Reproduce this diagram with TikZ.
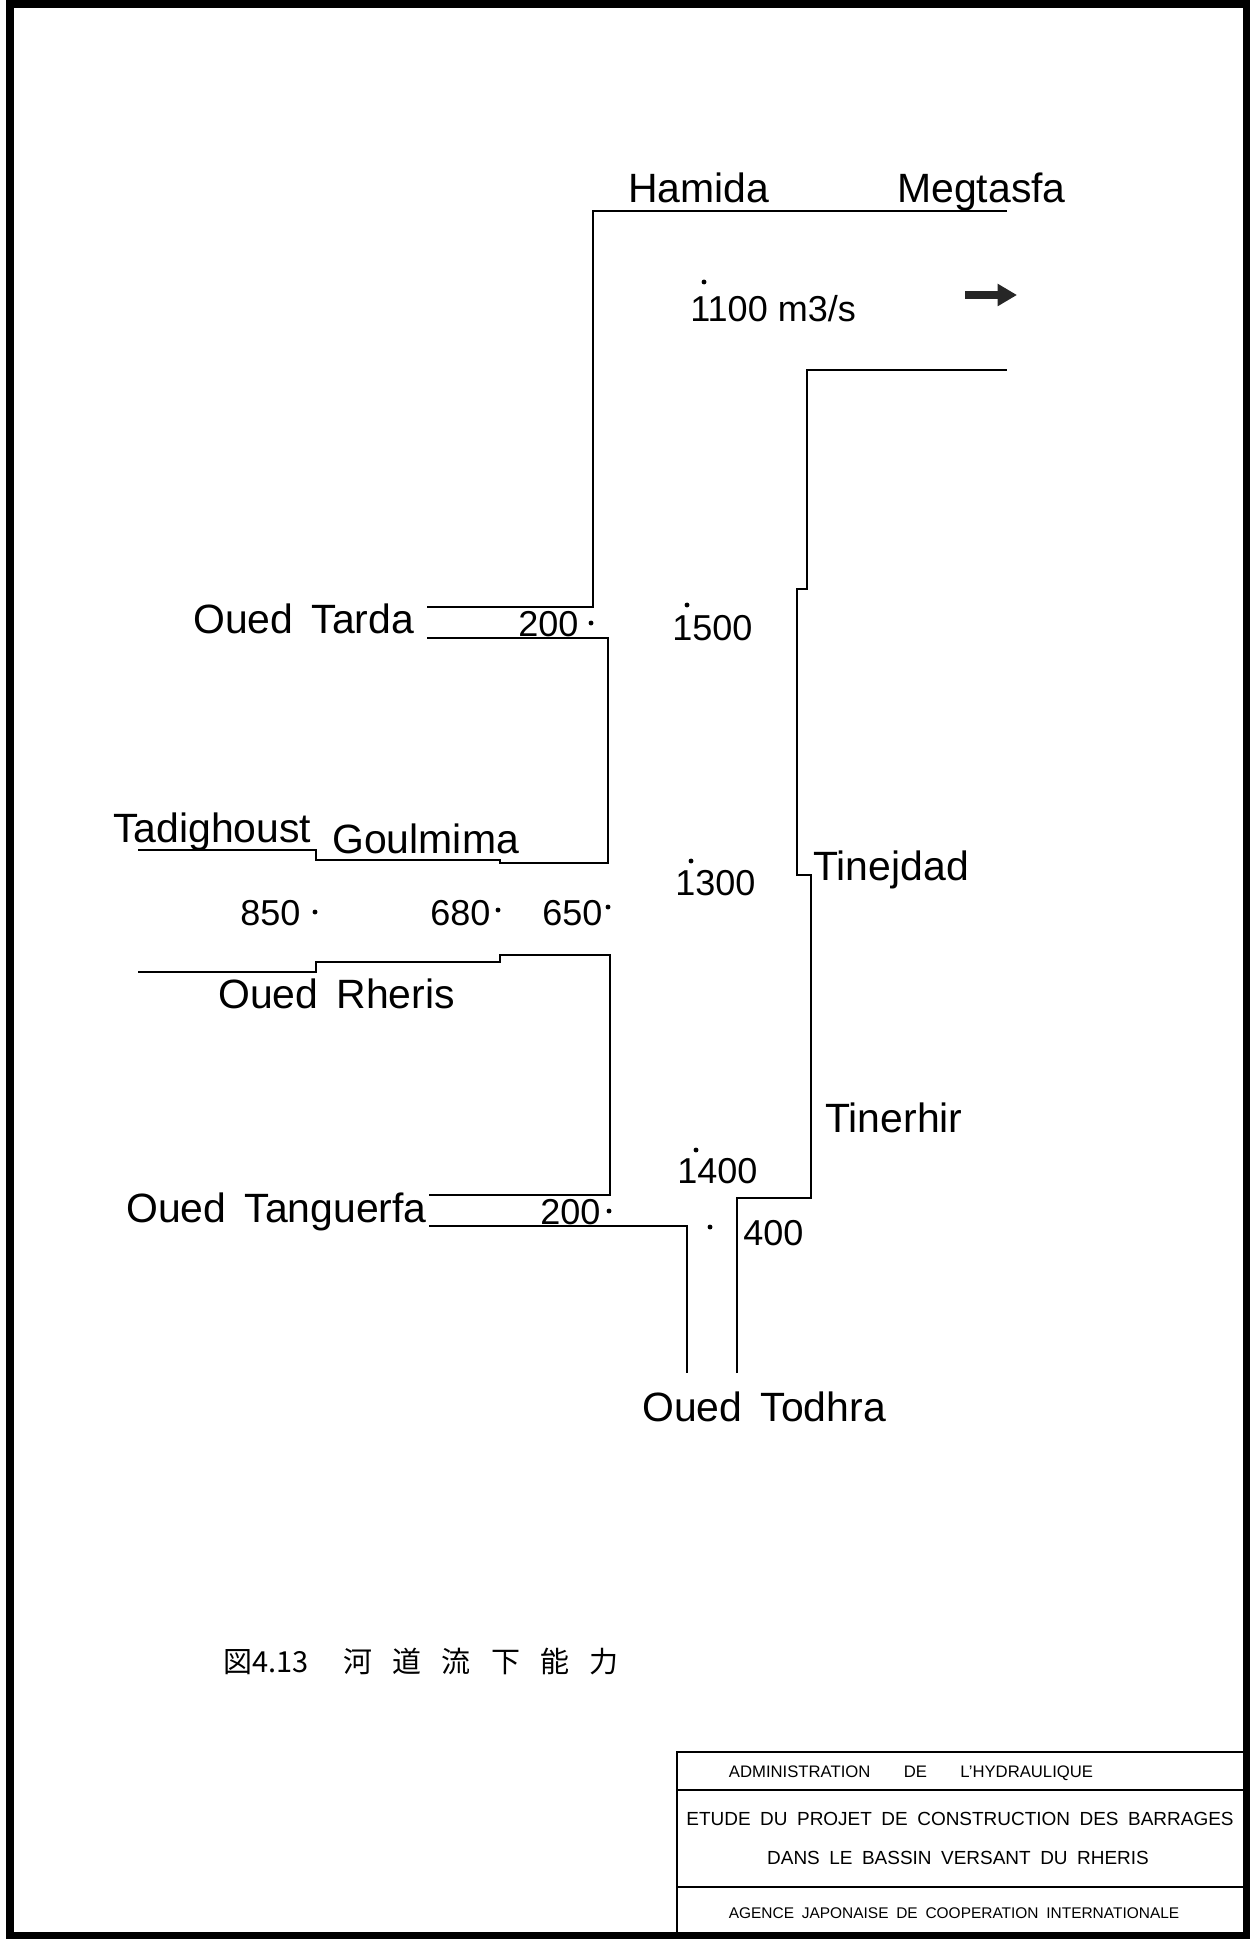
\documentclass[tikz,border=0pt]{standalone}
\usepackage{fontspec}
\setmainfont{Liberation Sans}
\newfontfamily\cjk{Noto Sans CJK JP}
\usetikzlibrary{arrows.meta}

\begin{document}
\begin{tikzpicture}[x=0.02cm,y=-0.02cm,
  frm/.style={draw=black,line width=4pt},
  bank/.style={draw=black,line width=1.4pt,line join=miter},
  cell/.style={draw=black,line width=1.1pt},
  place/.style={font=\fontsize{23.3}{26}\selectfont,inner sep=0pt,anchor=base west},
  num/.style={font=\fontsize{20.5}{24}\selectfont,inner sep=0pt,anchor=base west},
  spot/.style={circle,fill=black,inner sep=0pt,minimum size=2.8pt},
  tb/.style={font=\fontsize{#1}{12}\selectfont,inner sep=0pt},
  tb/.default=10.8,
  flow/.style={draw=black!85,line width=5pt,-{Triangle[length=11pt,width=12pt]}}]
\useasboundingbox (0,0) rectangle (1258,1939);
\draw[frm] (10,4) rectangle (1246,1935);
% ---- river banks
\draw[bank] (1007,211) -- (593,211) -- (593,607) -- (427,607);
\draw[bank] (427,638) -- (608,638) -- (608,863) -- (500,863) -- (500,860) -- (316,860) -- (316,850) -- (138,850);
\draw[bank] (138,972) -- (316,972) -- (316,962) -- (500,962) -- (500,955) -- (610,955) -- (610,1195) -- (429,1195);
\draw[bank] (429,1226) -- (687,1226) -- (687,1373);
\draw[bank] (737,1373) -- (737,1198) -- (811,1198) -- (811,875) -- (797,875) -- (797,589) -- (807,589) -- (807,370) -- (1007,370);
\coordinate (tail) at (965,295);
\coordinate (head) at (1017,295);
\draw[flow] (tail) -- (head);
% ---- place names
\node[place] (hamida) at (628,203) {Hamida};
\node[place] (megtasfa) at (897,203) {Megtasfa};
\node[place] (tarda) at (193,633) {Oued\, Tarda};
\node[place] (tadighoust) at (113,842) {Tadighoust};
\node[place] (goulmima) at (332,853) {Goulmima};
\node[place] (rheris) at (218,1008) {Oued\, Rheris};
\node[place] (tanguerfa) at (126,1222) {Oued\, Tanguerfa};
\node[place] (tinejdad) at (813,880) {Tinejdad};
\node[place] (tinerhir) at (825,1132) {Tinerhir};
\node[place] (todhra) at (642,1421) {Oued\, Todhra};
% ---- discharges
\node[num] (q1100) at (690,322) {1100 m3/s};
\node[spot] (p1100) at (704,282) {};
\node[num] (q1500) at (672,640) {1500};
\node[spot] (p1500) at (687,605) {};
\node[num] (q1300) at (675,895) {1300};
\node[spot] (p1300) at (691,861) {};
\node[num] (q1400) at (677,1183) {1400};
\node[spot] (p1400) at (696,1150) {};
\node[num] (q200a) at (518,636) {200};
\node[spot] (p200a) at (591,623) {};
\node[num] (q850) at (240,925) {850};
\node[spot] (p850) at (315,912) {};
\node[num] (q680) at (430,925) {680};
\node[spot] (p680) at (498,910) {};
\node[num] (q650) at (542,925) {650};
\node[spot] (p650) at (608,907) {};
\node[num] (q200b) at (540,1224) {200};
\node[spot] (p200b) at (609,1211) {};
\node[spot] (p400) at (710,1227) {};
\node[num] (q400) at (743,1245) {400};
% ---- caption
\node[anchor=base west,inner sep=0pt,font=\cjk\fontsize{16.5}{20}\selectfont] (cap) at (223,1672) {図4.13\hspace{1.2em}河\hspace{0.7em}道\hspace{0.7em}流\hspace{0.7em}下\hspace{0.7em}能\hspace{0.7em}力};
% ---- title block
\draw[cell] (677,1935) -- (677,1752) -- (1246,1752);
\draw[cell] (677,1790) -- (1246,1790);
\draw[cell] (677,1887) -- (1246,1887);
\node[tb=9.5] (admin) at (911,1773) {ADMINISTRATION\hspace{2em}DE\hspace{2em}L'HYDRAULIQUE};
\node[tb] (etude) at (960,1819) {ETUDE\enspace DU\enspace PROJET\enspace DE\enspace CONSTRUCTION\enspace DES\enspace BARRAGES};
\node[tb] (dans) at (958,1858) {DANS\enspace LE\enspace BASSIN\enspace VERSANT\enspace DU\enspace RHERIS};
\node[tb=8.8] (agence) at (954,1913) {AGENCE\enspace JAPONAISE\enspace DE\enspace COOPERATION\enspace INTERNATIONALE};
\end{tikzpicture}
\end{document}
